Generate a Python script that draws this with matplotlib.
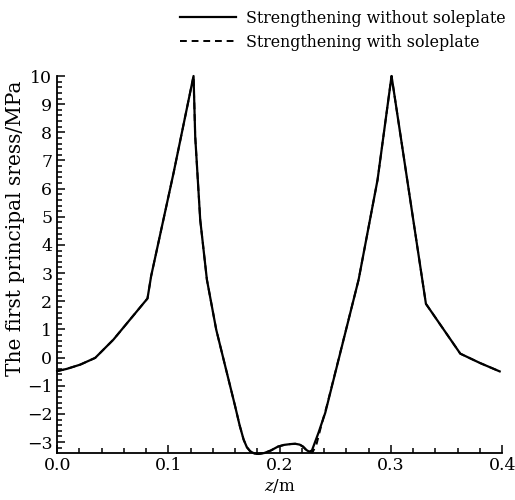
import matplotlib
matplotlib.use("Agg")
import matplotlib.pyplot as plt
from matplotlib.ticker import MultipleLocator

# Strengthening without soleplate
z_without = [0.0, 0.0087, 0.0207, 0.0342, 0.0506, 0.0812, 0.0845, 0.1046, 0.1226,
             0.1241, 0.1286, 0.1346, 0.143, 0.160, 0.164, 0.1676, 0.1705, 0.1736,
             0.1775, 0.181, 0.186, 0.192, 0.1985, 0.204, 0.210, 0.214, 0.218,
             0.221, 0.224, 0.2265, 0.229, 0.235, 0.241, 0.271, 0.288, 0.3006,
             0.3315, 0.3624, 0.380, 0.3978]
s_without = [-0.48, -0.4, -0.25, -0.01, 0.64, 2.1, 2.9, 6.55, 10.0,
             7.85, 4.89, 2.77, 0.99, -1.73, -2.4, -2.91, -3.18, -3.33,
             -3.41, -3.42, -3.39, -3.3, -3.16, -3.1, -3.07, -3.06, -3.09,
             -3.16, -3.28, -3.34, -3.3, -2.66, -1.96, 2.77, 6.31, 10.0,
             1.91, 0.14, -0.19, -0.49]

# Strengthening with soleplate (differs only near z = 0.23 m)
z_with = [0.0, 0.0087, 0.0207, 0.0342, 0.0506, 0.0812, 0.0845, 0.1046, 0.1226,
          0.1241, 0.1286, 0.1346, 0.143, 0.160, 0.164, 0.1676, 0.1705, 0.1736,
          0.1775, 0.181, 0.186, 0.192, 0.1985, 0.204, 0.210, 0.214, 0.218,
          0.221, 0.224, 0.2265, 0.2295, 0.233, 0.2375, 0.2425, 0.271, 0.288, 0.3006,
          0.3315, 0.3624, 0.380, 0.3978]
s_with = [-0.48, -0.4, -0.25, -0.01, 0.64, 2.1, 2.9, 6.55, 10.0,
          7.85, 4.89, 2.77, 0.99, -1.73, -2.4, -2.91, -3.18, -3.33,
          -3.41, -3.42, -3.39, -3.3, -3.16, -3.1, -3.07, -3.06, -3.09,
          -3.16, -3.28, -3.34, -3.37, -3.1, -2.4, -1.7, 2.77, 6.31, 10.0,
          1.91, 0.14, -0.19, -0.49]

plt.rcParams['font.family'] = ['DejaVu Serif']
plt.rcParams['mathtext.fontset'] = 'dejavuserif'

fig = plt.figure(figsize=(5.15, 5.0), dpi=100)
ax = fig.add_axes([0.111, 0.095, 0.864, 0.753])

l1, = ax.plot(z_without, s_without, color='black', lw=1.6, ls='-',
              label='Strengthening without soleplate', clip_on=False)
l2, = ax.plot(z_with, s_with, color='black', lw=1.4, ls=(0, (3.5, 2.5)),
              label='Strengthening with soleplate', zorder=1, clip_on=False)

ax.set_xlim(0.0, 0.4)
ax.set_ylim(-3.37, 10.0)
ax.xaxis.set_major_locator(MultipleLocator(0.1))
ax.xaxis.set_minor_locator(MultipleLocator(0.02))
ax.yaxis.set_major_locator(MultipleLocator(1))
ax.yaxis.set_minor_locator(MultipleLocator(0.2))
ax.xaxis.set_major_formatter(plt.FuncFormatter(lambda v, p: f"{v:.1f}"))
ax.yaxis.set_major_formatter(plt.FuncFormatter(lambda v, p: f"{int(round(v))}".replace('-', '\u2212')))

for side in ['top', 'right']:
    ax.spines[side].set_visible(False)
for side in ['left', 'bottom']:
    ax.spines[side].set_linewidth(1.3)

ax.tick_params(which='both', direction='in', width=1.1, labelsize=12.5)
ax.tick_params(which='major', length=6)
ax.tick_params(which='minor', length=3.5)

ax.set_xlabel(r'$z$/m', fontsize=12, labelpad=2)
ax.set_ylabel('The first principal sress/MPa', fontsize=14.5, y=0.595, labelpad=1)

fig.legend(handles=[l1, l2], loc='upper right', bbox_to_anchor=(1.0, 1.0),
           frameon=False, fontsize=11.4, handlelength=3.5, handletextpad=0.65,
           labelspacing=0.45, borderaxespad=0.2)

fig.savefig("out.png", dpi=100)
